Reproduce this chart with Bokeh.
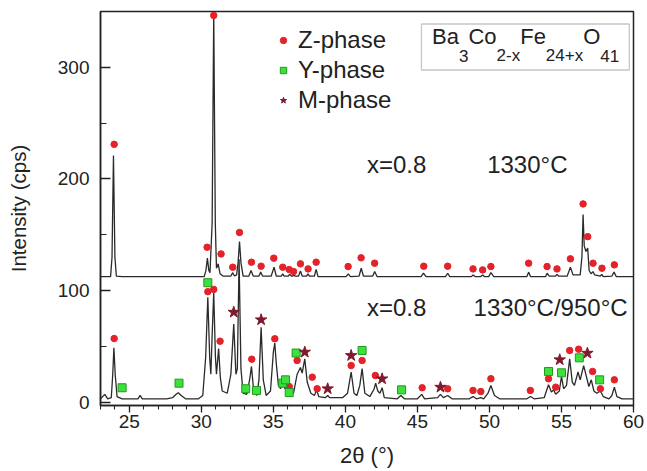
from bokeh.plotting import figure
from bokeh.models import (Range1d, SingleIntervalTicker, Label, BoxAnnotation,
                          Legend, LegendItem)
from bokeh.embed import file_html
from bokeh.resources import INLINE

FONT = "Liberation Sans"

# ---------------- data ----------------
# pattern sintered at 1330°C (offset trace, upper)
top_x = [23.0, 23.7, 23.8, 23.9, 24.0, 24.1, 24.5, 30.2, 30.32, 30.42, 30.52, 30.6,
         30.75, 30.86, 30.97, 31.05, 31.17, 31.3, 31.5, 32.05, 32.18, 32.3, 32.45,
         32.55, 32.65, 32.75, 32.9, 33.3, 33.45, 33.6, 34.0, 34.12, 34.25, 34.85,
         35.05, 35.2, 35.55, 35.65, 35.75, 36.05, 36.12, 36.25, 36.35, 36.42, 36.5,
         36.75, 36.88, 37.0, 37.3, 37.4, 37.5, 37.85, 37.97, 38.1, 40.05, 40.2,
         40.35, 40.95, 41.1, 41.25, 41.9, 42.03, 42.2, 45.25, 45.42, 45.6, 46.95,
         47.1, 47.25, 48.75, 48.86, 49.0, 49.4, 49.53, 49.65, 49.95, 50.1, 50.3,
         52.6, 52.72, 52.85, 53.9, 54.0, 54.15, 54.6, 54.69, 54.8, 55.4, 55.62,
         55.8, 56.3, 56.42, 56.5, 56.58, 56.7, 56.82, 56.92, 57.05, 57.19, 57.3,
         57.7, 57.8, 57.9, 58.5, 58.65, 58.8, 60.0]
top_y = [112.5, 112.5, 130, 221, 130, 113, 112.5, 112.5, 118, 129, 118, 116,
         160, 349, 160, 120, 124, 115, 113, 113, 116, 113, 114,
         125, 144, 125, 113, 113, 118, 113, 113, 116.5, 113, 113,
         121, 113, 113, 115, 113, 113, 114.5, 113, 113, 114, 113,
         113, 117.5, 113, 113, 115, 113, 113, 119, 112.5, 112.5, 115,
         112.5, 113, 120, 113, 113, 117, 112.5, 112.5, 115.5, 112.5, 112.5,
         115.5, 112.5, 112.5, 114, 112.5, 112.5, 114, 112.5, 112.5, 116, 112.5,
         112.5, 116.5, 112.5, 112.5, 115.5, 113, 113, 114.5, 113, 113, 121,
         114, 114, 130, 168, 140, 135, 138, 118, 115, 117, 114,
         113, 114.5, 112.5, 113, 116.5, 112.5, 112.5]

# pattern 1330°C / 950°C (lower)
bot_x = [23.0, 23.3, 23.5, 23.75, 23.85, 23.93, 24.02, 24.15, 24.5, 25.6, 25.75,
         25.9, 26.5, 27.6, 28.0, 28.25, 28.4, 28.6, 28.9, 29.8, 30.1, 30.3, 30.45,
         30.58, 30.66, 30.75, 30.86, 30.98, 31.05, 31.2, 31.32, 31.45, 31.8, 32.05,
         32.25, 32.4, 32.5, 32.62, 32.75, 32.9, 33.15, 33.35, 33.48, 33.62, 33.85,
         34.0, 34.15, 34.3, 34.5, 34.8, 35.0, 35.1, 35.2, 35.35, 35.5, 35.65, 35.8,
         36.0, 36.15, 36.4, 36.65, 36.88, 37.0, 37.18, 37.35, 37.6, 37.85, 38.0,
         38.15, 38.6, 38.77, 38.9, 39.8, 40.15, 40.4, 40.6, 40.8, 41.0, 41.16,
         41.35, 41.7, 42.0, 42.1, 42.25, 42.4, 42.55, 42.7, 43.6, 43.85, 44.1, 45.0,
         45.3, 45.5, 46.4, 46.6, 46.8, 47.1, 47.4, 48.6, 48.86, 49.1, 49.4, 49.6,
         49.9, 50.1, 50.35, 50.7, 52.6, 52.85, 53.1, 53.8, 54.1, 54.3, 54.45, 54.6,
         54.85, 55.0, 55.15, 55.35, 55.57, 55.75, 55.9, 56.15, 56.3, 56.54, 56.75,
         56.9, 57.07, 57.25, 57.45, 57.7, 57.9, 58.3, 58.5, 58.67, 58.85, 59.2, 60.0]
bot_y = [3, 7, 3, 4, 25, 48.7, 25, 5, 3, 3, 6,
         3, 3, 3, 4, 7, 8.5, 6, 3, 3, 6, 40, 94,
         40, 25, 60, 98, 40, 25, 48, 22, 10, 8, 25,
         70, 25, 30, 128, 30, 8, 7, 20, 32, 12, 6,
         20, 67, 20, 6, 10, 45, 53, 35, 15, 12, 20, 12,
         15, 8, 8, 25, 31, 26, 38.8, 18, 8, 6, 11,
         5, 4, 6, 4, 4, 8, 27, 8, 6, 15, 30,
         8, 5, 12, 17, 10, 8, 13, 4, 3, 6, 3, 3,
         7, 3, 4, 7, 4, 6, 3, 3, 5, 3, 4, 3,
         8, 15, 6, 3, 3, 5, 3, 4, 15.6, 9, 11, 7,
         10, 23, 12, 15, 38.8, 18, 15, 27, 20, 32.8, 22,
         14, 20, 10, 8, 10, 5, 3, 6, 13.4, 5, 3, 3]

# phase markers
z_x = [23.95, 30.4, 30.86, 31.37, 32.18, 32.65, 33.48, 34.15, 35.03, 35.65, 36.1,
       36.4, 36.88, 37.41, 37.97, 40.19, 41.09, 42.03, 45.44, 47.1, 48.86, 49.53,
       50.1, 52.72, 54.0, 54.69, 55.62, 56.5, 56.82, 57.19, 57.81, 58.67,
       23.95, 30.45, 30.86, 31.3, 33.5, 35.1, 36.1, 36.65, 37.7, 38.04, 40.4,
       41.16, 42.08, 45.33, 47.1, 48.86, 49.4, 50.1, 52.84, 54.1, 54.6, 55.57,
       56.19, 57.16, 57.7, 58.67]
z_y = [231, 138.8, 346.5, 132.8, 120.9, 152, 125.4, 121.8, 129, 120.9, 118.8,
       117, 123.9, 119.4, 125.4, 121.5, 129.3, 124.5, 121.8, 121.8, 119.4, 118.5,
       121.5, 124.5, 121.5, 119.4, 128.4, 177.6, 148.3, 124.5, 120, 123,
       57, 99, 101, 54.6, 38.5, 56.8, 14, 37.3, 22.4, 12, 32.8,
       37.3, 23.9, 12.9, 12, 10.5, 9.5, 21, 10.5, 21, 13.4, 46.3,
       47.4, 27.5, 12, 20]
y_x = [24.5, 28.45, 30.45, 33.08, 33.83, 35.65, 35.84, 36.1, 36.58, 41.16, 43.9,
       54.1, 55.0, 56.24, 57.65]
y_y = [12.9, 17, 107, 12, 10.5, 17, 20, 8.6, 44, 46.3, 11,
       27.5, 26.3, 39.7, 20]
m_x = [32.25, 34.15, 37.18, 38.77, 40.4, 42.55, 46.6, 54.88, 56.8]
m_y = [80.6, 73.8, 44.8, 12, 41.8, 20.9, 13.4, 38, 43.9]

# ---------------- figure ----------------
p = figure(width=647, height=471, output_backend="svg", toolbar_location=None,
           x_range=Range1d(23, 60), y_range=Range1d(-3, 350),
           min_border_left=100, min_border_right=14, min_border_top=11,
           min_border_bottom=66)
p.xgrid.visible = False
p.ygrid.visible = False
p.outline_line_color = "#222222"
p.outline_line_width = 1.5
p.background_fill_color = "white"
p.border_fill_color = "white"

p.line(top_x, top_y, line_color="#2a2a2a", line_width=1.3)
p.line(bot_x, bot_y, line_color="#2a2a2a", line_width=1.3)

rz = p.scatter(z_x, z_y, marker="circle", size=6.5, fill_color="#e3222a",
               line_color="#e3222a")
ry = p.scatter(y_x, y_y, marker="square", size=8, fill_color="#3ee03e",
               line_color="#1f9a1f", line_width=1)
rm = p.scatter(m_x, m_y, marker="star", size=12, fill_color="#7d1a2c",
               line_color="#7d1a2c")

# axes
for ax in p.xaxis:
    ax.ticker = SingleIntervalTicker(interval=5, num_minor_ticks=5)
    ax.axis_label = "2\u03b8 (\u00b0)"
    ax.major_tick_in = 0
    ax.major_tick_out = 7
    ax.minor_tick_in = 0
    ax.minor_tick_out = 4
    ax.major_label_standoff = 2
    ax.axis_label_standoff = 12
    ax.axis_label_text_font_size = "22px"
for ax in p.yaxis:
    ax.ticker = SingleIntervalTicker(interval=100, num_minor_ticks=2)
    ax.axis_label = "Intensity (cps)"
    ax.major_tick_in = 10
    ax.major_tick_out = 0
    ax.minor_tick_in = 6
    ax.minor_tick_out = 0
    ax.major_label_standoff = 11
    ax.axis_label_standoff = 25
    ax.axis_label_text_font_size = "20.5px"
for ax in p.axis:
    ax.axis_line_color = "#222222"
    ax.axis_line_width = 1.5
    ax.major_tick_line_color = "#222222"
    ax.minor_tick_line_color = "#222222"
    ax.major_tick_line_width = 1.3
    ax.minor_tick_line_width = 1.1
    ax.major_label_text_font = FONT
    ax.major_label_text_font_size = "19px"
    ax.major_label_text_color = "#222222"
    ax.axis_label_text_font = FONT
    ax.axis_label_text_font_style = "normal"
    ax.axis_label_text_color = "#222222"

# legend
legend = Legend(items=[LegendItem(label="Z-phase", renderers=[rz]),
                       LegendItem(label="Y-phase", renderers=[ry]),
                       LegendItem(label="M-phase", renderers=[rm])],
                location=(175, 290), glyph_width=16, glyph_height=30,
                label_height=30, label_standoff=7, spacing=0, padding=0,
                margin=0, border_line_alpha=0, background_fill_alpha=0,
                label_text_font=FONT, label_text_font_size="24px",
                label_text_color="#222222")
p.add_layout(legend)

# annotations
def lab(x, y, text, size="24px", x_offset=0):
    p.add_layout(Label(x=x, y=y, text=text, x_offset=x_offset,
                       text_font=FONT, text_font_size=size,
                       text_baseline="alphabetic", text_align="left",
                       text_color="#222222"))

lab(41.5, 213, "x=0.8")
lab(49.84, 213, "1330\u00b0C")
lab(41.5, 84.5, "x=0.8")
lab(48.9, 84.5, "1330\u00b0C/950\u00b0C")

# formula box
p.add_layout(BoxAnnotation(left=45.28, right=59.71, bottom=297.6, top=338.8,
                           fill_alpha=0, line_color="#444444", line_width=1.3))
main_w = {"Ba": 1.223, "Co": 1.278, "Fe": 1.167, "O": 0.778}
sub_w = {"3": 0.556, "2-x": 1.389, "24+x": 2.196, "41": 1.112}
pieces = [("Ba", False), ("3", True), ("Co", False), ("2-x", True),
          ("Fe", False), ("24+x", True), ("O", False), ("41", True)]
MAIN, SUB = 22, 17
off = 0.0
for txt, is_sub in pieces:
    if is_sub:
        lab(46.02, 310.5, txt, size=f"{SUB}px", x_offset=off)
        off += sub_w[txt] * SUB
    else:
        lab(46.02, 328.0, txt, size=f"{MAIN}px", x_offset=off)
        off += main_w[txt] * MAIN

open("out.html", "w").write(file_html(p, INLINE))
